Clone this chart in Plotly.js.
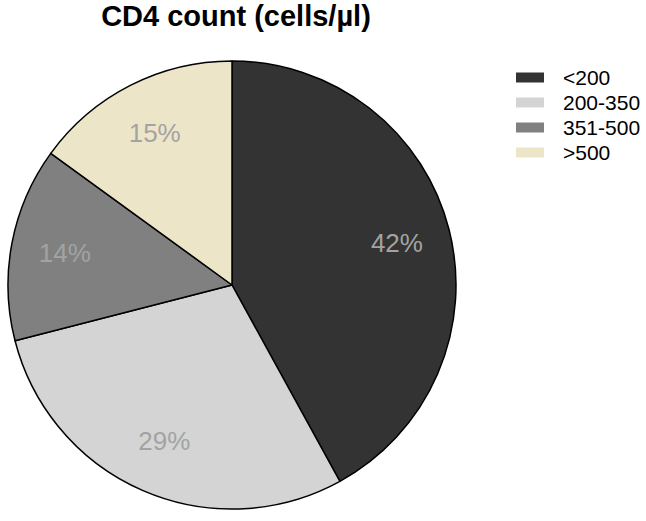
<!DOCTYPE html>
<html>
<head>
<meta charset="utf-8">
<script src="https://cdn.plot.ly/plotly-3.0.1.min.js"></script>
<style>html,body{margin:0;padding:0;background:#fff;}#chart{width:646px;height:521px;}</style>
</head>
<body>
<div id="chart"></div>
<script>
const categories = ["<200", "200-350", "351-500", ">500"];
const values = [42, 29, 14, 15];
const colors = ["#333333", "#d4d4d4", "#808080", "#ede5c8"];

const W = 646, H = 521;
const FONT = "Liberation Sans, Arial, sans-serif";
const pieDomain = {x: [8 / W, 456 / W], y: [8 / H, 456 / H + 8 / H]};

const pieTrace = {
  type: "pie",
  labels: categories,
  values: values,
  sort: false,
  direction: "clockwise",
  rotation: 0,
  marker: {colors: colors, line: {color: "#000000", width: 1.5}},
  textinfo: "none",
  hoverinfo: "none",
  showlegend: false,
  domain: pieDomain
};

// transparent ring over the pie, used only to place the percentage labels
const labelTrace = {
  type: "pie",
  labels: categories,
  values: values,
  sort: false,
  direction: "clockwise",
  rotation: 0,
  hole: 0.52,
  marker: {colors: categories.map(() => "rgba(0,0,0,0)"), line: {width: 0}},
  texttemplate: "%{value}%",
  textposition: "inside",
  insidetextorientation: "horizontal",
  textfont: {family: FONT, size: 26, color: "#a3a3a3"},
  hoverinfo: "none",
  showlegend: false,
  domain: pieDomain
};

// legend drawn as shapes + annotations, from the category/color arrays
const legendX0 = 516, legendX1 = 544, legendTextX = 561, legendY0 = 77.5, legendStep = 25;
const shapes = categories.map((c, i) => ({
  type: "rect", xref: "paper", yref: "paper",
  x0: legendX0 / W, x1: legendX1 / W,
  y0: 1 - (legendY0 + i * legendStep - 5) / H, y1: 1 - (legendY0 + i * legendStep + 5) / H,
  fillcolor: colors[i], line: {width: 0}
}));
const annotations = categories.map((c, i) => ({
  xref: "paper", yref: "paper",
  x: legendTextX / W, y: 1 - (legendY0 + i * legendStep) / H,
  xanchor: "left", yanchor: "middle",
  text: c.replace("<", "&lt;").replace(">", "&gt;"),
  showarrow: false,
  font: {family: FONT, size: 21, color: "#000"}
}));

const layout = {
  width: W, height: H,
  margin: {l: 0, r: 0, t: 0, b: 0},
  paper_bgcolor: "#ffffff",
  title: {
    text: "<b>CD4 count (cells/µl)</b>",
    font: {family: FONT, size: 29, color: "#000"},
    x: 236 / W, xanchor: "center", y: 1 - 16 / H, yanchor: "middle"
  },
  showlegend: false,
  shapes: shapes,
  annotations: annotations
};

Plotly.newPlot("chart", [pieTrace, labelTrace], layout, {displayModeBar: false, staticPlot: true});
</script>
</body>
</html>
